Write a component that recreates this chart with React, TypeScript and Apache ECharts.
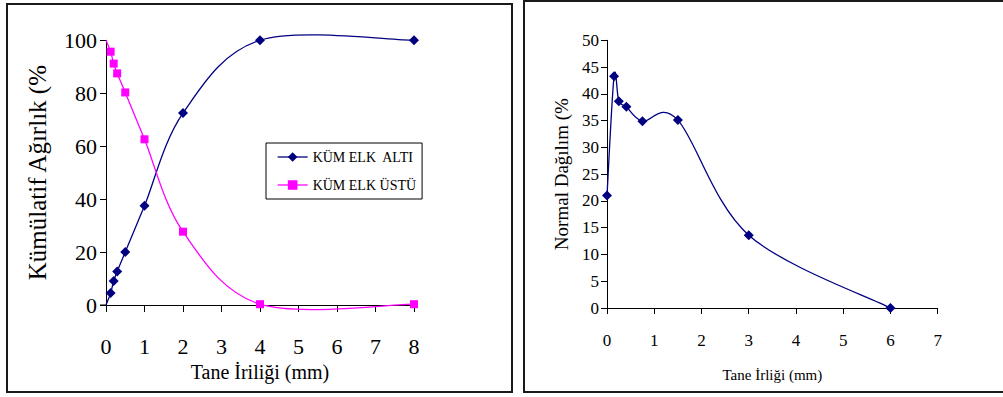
import React, { useEffect, useRef } from "react";
import * as echarts from "echarts";

const sizeLeft = [0, 0.12, 0.2, 0.29, 0.5, 1, 2, 4, 8];
const altiValues = [0, 4.5, 9.1, 12.7, 20, 37.5, 72.5, 100, 100];
const ustuValues = [100, 95.7, 91.2, 87.5, 80.3, 62.6, 27.7, 0.3, 0.3];

const sizeRight = [0, 0.15, 0.25, 0.41, 0.75, 1.5, 3, 6];
const normalValues = [21, 43.3, 38.6, 37.6, 34.9, 35.1, 13.6, 0];

const altiName = "KÜM ELK  ALTI";
const ustuName = "KÜM ELK ÜSTÜ";
const leftXName = "Tane İriliği (mm)";
const leftYName = "Kümülatif Ağırlık (%";
const rightXName = "Tane İrliği (mm)";
const rightYName = "Normal Dağılım (%";

const FONT = "Liberation Serif";
const NAVY = "#000080";
const MAGENTA = "#FF00FF";

function pairs(xs: number[], ys: number[], hideFirst: boolean) {
  return xs.map((x, i) =>
    hideFirst && i === 0 ? { value: [x, ys[i]], symbol: "none" } : { value: [x, ys[i]] }
  );
}

// Excel-like smoothed curve (Catmull-Rom style Bezier through the points)
function smoothPath(pts: number[][]): string {
  const n = pts.length;
  let d = `M${pts[0][0]},${pts[0][1]}`;
  for (let i = 0; i < n - 1; i++) {
    const p0 = pts[i - 1] || pts[i];
    const p1 = pts[i];
    const p2 = pts[i + 1];
    const p3 = pts[i + 2] || pts[i + 1];
    const c1x = p1[0] + (p2[0] - p0[0]) / 6;
    const c1y = p1[1] + (p2[1] - p0[1]) / 6;
    const c2x = p2[0] - (p3[0] - p1[0]) / 6;
    const c2y = p2[1] - (p3[1] - p1[1]) / 6;
    d += ` C${c1x},${c1y} ${c2x},${c2y} ${p2[0]},${p2[1]}`;
  }
  return d;
}

function curveSeries(name: string, axis: number, xs: number[], ys: number[], color: string) {
  return {
    name,
    type: "custom",
    xAxisIndex: axis,
    yAxisIndex: axis,
    data: xs.map((x, i) => [x, ys[i]]),
    silent: true,
    z: 1,
    renderItem: (params: any, api: any) => {
      if (params.dataIndex !== 0) return null;
      const pts = xs.map((x, i) => api.coord([x, ys[i]]));
      return {
        type: "path",
        shape: { pathData: smoothPath(pts) },
        style: { fill: "none", stroke: color, lineWidth: 1.3 },
      };
    },
  };
}

function markerSeries(name: string, axis: number, data: any[], symbol: string, size: number, color: string) {
  return {
    name,
    type: "line",
    xAxisIndex: axis,
    yAxisIndex: axis,
    data,
    symbol,
    symbolSize: size,
    showAllSymbol: true,
    clip: false,
    z: 3,
    color,
    lineStyle: { color, width: 1.3, opacity: 0 },
    itemStyle: { color },
  };
}

export default function App() {
  const ref = useRef<HTMLDivElement>(null);
  useEffect(() => {
    document.body.style.margin = "0";
    const chart = echarts.init(ref.current!, null, { renderer: "svg" });
    const axisLine = { show: true, lineStyle: { color: "#000", width: 1 } };
    chart.setOption({
      animation: false,
      backgroundColor: "#fff",
      textStyle: { fontFamily: FONT },
      graphic: [
        {
          type: "rect",
          shape: { x: 7, y: 4, width: 505, height: 388 },
          style: { fill: "none", stroke: "#1a1a1a", lineWidth: 2 },
        },
        {
          type: "rect",
          shape: { x: 524, y: 1, width: 490, height: 391 },
          style: { fill: "none", stroke: "#1a1a1a", lineWidth: 2 },
        },
        {
          type: "line",
          shape: { x1: 100, y1: 305, x2: 106, y2: 305 },
          style: { stroke: "#000", lineWidth: 1 },
        },
      ],
      legend: {
        data: [
          { name: altiName, lineStyle: { color: NAVY, width: 1.3, opacity: 1 } },
          { name: ustuName, lineStyle: { color: MAGENTA, width: 1.3, opacity: 1 } },
        ],
        orient: "vertical",
        left: 266,
        top: 143,
        padding: [7, 6, 7, 11],
        itemGap: 14,
        itemWidth: 30,
        itemHeight: 12,
        borderColor: "#000",
        borderWidth: 1,
        backgroundColor: "#fff",
        textStyle: { fontFamily: FONT, fontSize: 14, color: "#000" },
      },
      grid: [
        { left: 106, top: 40.3, width: 308, height: 264.7, containLabel: false },
        { left: 607, top: 40.3, width: 330.7, height: 267.7, containLabel: false },
      ],
      xAxis: [
        {
          gridIndex: 0,
          type: "value",
          min: 0,
          max: 8,
          interval: 1,
          axisLine,
          axisTick: { show: true, length: 7, lineStyle: { color: "#000" } },
          splitLine: { show: false },
          axisLabel: { margin: 30, fontSize: 22, color: "#000", fontFamily: FONT },
          name: leftXName,
          nameLocation: "middle",
          nameGap: 53,
          nameTextStyle: { fontSize: 20, color: "#000", fontFamily: FONT },
        },
        {
          gridIndex: 1,
          type: "value",
          min: 0,
          max: 7,
          interval: 1,
          axisLine,
          axisTick: { show: true, length: 6, lineStyle: { color: "#000" } },
          splitLine: { show: false },
          axisLabel: { margin: 24, fontSize: 17, color: "#000", fontFamily: FONT },
          name: rightXName,
          nameLocation: "middle",
          nameGap: 59,
          nameTextStyle: { fontSize: 15, color: "#000", fontFamily: FONT },
        },
      ],
      yAxis: [
        {
          gridIndex: 0,
          type: "value",
          min: 0,
          max: 100,
          interval: 20,
          axisLine,
          axisTick: { show: true, length: 6, lineStyle: { color: "#000" } },
          splitLine: { show: false },
          axisLabel: { margin: 9, fontSize: 22, color: "#000", fontFamily: FONT },
          name: leftYName,
          nameLocation: "middle",
          nameGap: 56,
          nameTextStyle: { fontSize: 25, color: "#000", fontFamily: FONT },
        },
        {
          gridIndex: 1,
          type: "value",
          min: 0,
          max: 50,
          interval: 5,
          axisLine,
          axisTick: { show: true, length: 6, lineStyle: { color: "#000" } },
          splitLine: { show: false },
          axisLabel: { margin: 8, fontSize: 17, color: "#000", fontFamily: FONT },
          name: rightYName,
          nameLocation: "middle",
          nameGap: 36,
          nameTextStyle: { fontSize: 19, color: "#000", fontFamily: FONT },
        },
      ],
      series: [
        curveSeries("altiCurve", 0, sizeLeft, altiValues, NAVY),
        curveSeries("ustuCurve", 0, sizeLeft, ustuValues, MAGENTA),
        curveSeries("normalCurve", 1, sizeRight, normalValues, NAVY),
        markerSeries(altiName, 0, pairs(sizeLeft, altiValues, true), "diamond", 10, NAVY),
        markerSeries(ustuName, 0, pairs(sizeLeft, ustuValues, true), "rect", 8, MAGENTA),
        markerSeries("Normal Dağılım", 1, pairs(sizeRight, normalValues, false), "diamond", 10, NAVY),
      ],
    });
    return () => chart.dispose();
  }, []);
  return (
    <div
      ref={ref}
      style={{ position: "absolute", left: 0, top: 0, width: 1003, height: 397 }}
    />
  );
}
